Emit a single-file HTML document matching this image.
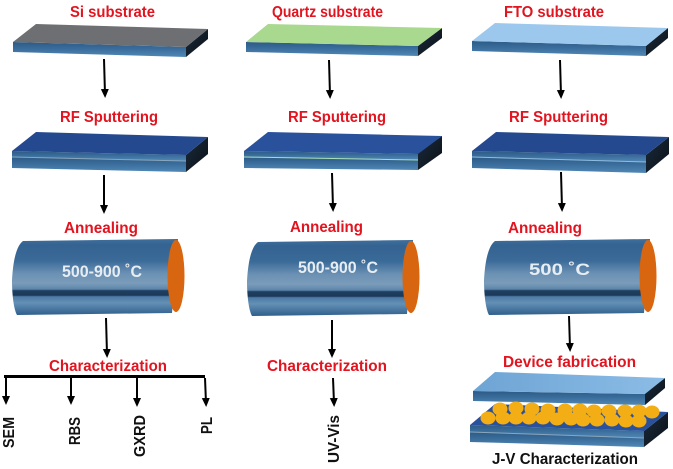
<!DOCTYPE html>
<html>
<head>
<meta charset="utf-8">
<style>
html,body{margin:0;padding:0;background:#fff}
svg{display:block;filter:blur(.35px)}
text{font-family:"Liberation Sans",sans-serif;font-weight:bold}
.r{fill:#e2141f;font-size:16px}
.k{fill:#111;font-size:15.500px}
.w{fill:#e6edf3;font-size:16.500px}
</style>
</head>
<body>
<svg width="673" height="469" viewBox="0 0 673 469" xmlns="http://www.w3.org/2000/svg">
<defs>
<linearGradient id="f" x1="0" y1="0" x2="0" y2="1">
<stop offset="0" stop-color="#2c5a85"/><stop offset=".5" stop-color="#3c6f9e"/><stop offset="1" stop-color="#5088b6"/>
</linearGradient>
<linearGradient id="s" x1="0" y1="0" x2="1" y2="1">
<stop offset="0" stop-color="#1a2a3a"/><stop offset="1" stop-color="#0b1118"/>
</linearGradient>
<linearGradient id="c" x1="0" y1="0" x2="0" y2="1">
<stop offset="0" stop-color="#3f6f9c"/><stop offset=".08" stop-color="#356391"/>
<stop offset=".28" stop-color="#3a6a98"/><stop offset=".45" stop-color="#6a90b3"/>
<stop offset=".58" stop-color="#7b9cba"/><stop offset=".66" stop-color="#5d86ab"/>
<stop offset=".68" stop-color="#1f3f60"/><stop offset=".74" stop-color="#1c3a5a"/>
<stop offset=".76" stop-color="#4c7ba6"/><stop offset=".84" stop-color="#6490b5"/>
<stop offset="1" stop-color="#2f5f8c"/>
</linearGradient>
<linearGradient id="t" x1="0" y1="0" x2="1" y2="0">
<stop offset="0" stop-color="#6ea4d4"/><stop offset="1" stop-color="#8bbce6"/>
</linearGradient>
<marker id="a" markerWidth="9" markerHeight="9" refX="5" refY="4" orient="auto" markerUnits="userSpaceOnUse">
<path d="M0 0L9 4L0 8Z" fill="#000"/>
</marker>
<g id="cyl">
<path d="M12 4C13-14 16-30 23-35L178-37L172 37L17 39C14 34 12 20 12 4Z" fill="url(#c)"/>
<ellipse cx="176" cy="0" rx="8.500" ry="36" fill="#d8650f"/>
</g>
</defs>

<!-- Si slab -->
<path d="M186 47L208 29V39L186 57Z" fill="url(#s)"/>
<path d="M13 42L186 47V57L13 52Z" fill="url(#f)"/>
<path d="M36 24L208 29L186 47L13 42Z" fill="#6e6f72"/>
<!-- Quartz slab -->
<path d="M418 46L442 28V38L418 56Z" fill="url(#s)"/>
<path d="M246 42L418 46V56L246 52Z" fill="url(#f)"/>
<path d="M268 24L442 28L418 46L246 42Z" fill="#a9d88f"/>
<!-- FTO slab -->
<path d="M646 46L668 28V38L646 56Z" fill="url(#s)"/>
<path d="M472 41L646 46V56L472 51Z" fill="url(#f)"/>
<path d="M495 23L668 28L646 46L472 41Z" fill="#9cc8ee"/>

<!-- RF Si -->
<path d="M186 155L208 137V154L186 172Z" fill="url(#s)"/>
<path d="M12 157L186 161V172L12 168Z" fill="url(#f)"/>
<path d="M12 151L186 155V161L12 157Z" fill="url(#f)"/>
<path d="M12 157L186 161" stroke="#8aa6bc" stroke-width="1" fill="none"/>
<path d="M36 132L208 137L186 155L12 151Z" fill="#24498f"/>
<!-- RF Quartz -->
<path d="M418 153L442 136V153L418 170Z" fill="url(#s)"/>
<path d="M244 157L418 160V170L244 168Z" fill="url(#f)"/>
<path d="M244 151L418 154V160L244 157Z" fill="url(#f)"/>
<path d="M244 157L418 160" stroke="#a9e0b8" stroke-width="1" fill="none"/>
<path d="M268 132L442 136L418 154L244 151Z" fill="#2a519c"/>
<!-- RF FTO -->
<path d="M646 155L669 137V154L646 173Z" fill="url(#s)"/>
<path d="M472 157L646 162V173L472 168Z" fill="url(#f)"/>
<path d="M472 151L646 155V162L472 157Z" fill="url(#f)"/>
<path d="M472 157L646 162" stroke="#8fbde0" stroke-width="1" fill="none"/>
<path d="M496 132L669 137L646 155L472 151Z" fill="#24498f"/>

<!-- Cylinders -->
<use href="#cyl" x="0" y="276"/>
<use href="#cyl" x="235" y="277"/>
<use href="#cyl" x="472" y="276"/>

<!-- Device -->
<path d="M645 393L665 378V388L645 405Z" fill="url(#s)"/>
<path d="M473 391L645 394V405L473 401Z" fill="url(#f)"/>
<path d="M495 372L665 378L645 394L473 391Z" fill="url(#t)"/>
<path d="M644 431L668 412V428L644 447Z" fill="url(#s)"/>
<path d="M470 432L644 438V447L470 442Z" fill="url(#f)"/>
<path d="M470 425L644 431V438L470 432Z" fill="url(#f)"/>
<path d="M470 432L644 438" stroke="#8aa6bc" stroke-width="1" fill="none"/>
<path d="M495 404L668 412L644 431L470 425Z" fill="#2a519c"/>
<g fill="#f2ae14">
<ellipse cx="500" cy="409" rx="7.500" ry="6.500"/><ellipse cx="516" cy="408" rx="7.500" ry="6.500"/><ellipse cx="532" cy="409" rx="7.500" ry="6.500"/><ellipse cx="548" cy="410" rx="7.500" ry="6.500"/><ellipse cx="565" cy="410" rx="7.500" ry="6.500"/><ellipse cx="580" cy="410" rx="7.500" ry="6.500"/><ellipse cx="594" cy="411" rx="7.500" ry="6.500"/><ellipse cx="609" cy="411" rx="7.500" ry="6.500"/><ellipse cx="625" cy="411" rx="7.500" ry="6.500"/><ellipse cx="639" cy="411" rx="7.500" ry="6.500"/><ellipse cx="652" cy="412" rx="7.500" ry="6.500"/>
<ellipse cx="488" cy="418" rx="7.500" ry="6.500"/><ellipse cx="503" cy="418" rx="7.500" ry="6.500"/><ellipse cx="516" cy="418" rx="7.500" ry="6.500"/><ellipse cx="529" cy="418" rx="7.500" ry="6.500"/><ellipse cx="543" cy="418" rx="7.500" ry="6.500"/><ellipse cx="557" cy="419" rx="7.500" ry="6.500"/><ellipse cx="571" cy="419" rx="7.500" ry="6.500"/><ellipse cx="583" cy="420" rx="7.500" ry="6.500"/><ellipse cx="597" cy="420" rx="7.500" ry="6.500"/><ellipse cx="612" cy="420" rx="7.500" ry="6.500"/><ellipse cx="626" cy="421" rx="7.500" ry="6.500"/><ellipse cx="639" cy="421" rx="7.500" ry="6.500"/>
</g>

<!-- Arrows -->
<g stroke="#000" stroke-width="2" fill="none">
<path d="M104 59L105 94" marker-end="url(#a)"/>
<path d="M329 60L330 95" marker-end="url(#a)"/>
<path d="M560 60L561 95" marker-end="url(#a)"/>
<path d="M104 175L104 210" marker-end="url(#a)"/>
<path d="M332 173L333 208" marker-end="url(#a)"/>
<path d="M561 172L562 208" marker-end="url(#a)"/>
<path d="M106 318L107 354" marker-end="url(#a)"/>
<path d="M332 320L332 354" marker-end="url(#a)"/>
<path d="M569 316L570 348" marker-end="url(#a)"/>
<path d="M6 376L6 401" marker-end="url(#a)"/>
<path d="M71 378L71 401" marker-end="url(#a)"/>
<path d="M137 378L137 403" marker-end="url(#a)"/>
<path d="M205 378L206 403" marker-end="url(#a)"/>
<path d="M333 378L334 403" marker-end="url(#a)"/>
</g>
<path d="M4 376.500H205" stroke="#000" stroke-width="3" fill="none"/>

<!-- Red labels -->
<text class="r" x="70" y="17" textLength="85" lengthAdjust="spacingAndGlyphs">Si substrate</text>
<text class="r" x="272" y="17" textLength="111" lengthAdjust="spacingAndGlyphs">Quartz substrate</text>
<text class="r" x="504" y="17" textLength="100" lengthAdjust="spacingAndGlyphs">FTO substrate</text>
<text class="r" x="60" y="122" textLength="98" lengthAdjust="spacingAndGlyphs">RF Sputtering</text>
<text class="r" x="288" y="122" textLength="98" lengthAdjust="spacingAndGlyphs">RF Sputtering</text>
<text class="r" x="509" y="122" textLength="99" lengthAdjust="spacingAndGlyphs">RF Sputtering</text>
<text class="r" x="64" y="233" textLength="74" lengthAdjust="spacingAndGlyphs">Annealing</text>
<text class="r" x="290" y="232" textLength="73" lengthAdjust="spacingAndGlyphs">Annealing</text>
<text class="r" x="508" y="233" textLength="74" lengthAdjust="spacingAndGlyphs">Annealing</text>
<text class="r" x="49" y="371" textLength="118" lengthAdjust="spacingAndGlyphs">Characterization</text>
<text class="r" x="267" y="371" textLength="120" lengthAdjust="spacingAndGlyphs">Characterization</text>
<text class="r" x="503" y="367" textLength="133" lengthAdjust="spacingAndGlyphs">Device fabrication</text>

<!-- White labels -->
<text class="w" x="62" y="277" textLength="80" lengthAdjust="spacingAndGlyphs">500-900 ˚C</text>
<text class="w" x="298" y="273" textLength="80" lengthAdjust="spacingAndGlyphs">500-900 ˚C</text>
<text class="w" x="529" y="275" textLength="61" lengthAdjust="spacingAndGlyphs">500 ˚C</text>

<!-- Black labels -->
<text class="k" x="492" y="464" textLength="146" lengthAdjust="spacingAndGlyphs">J-V Characterization</text>
<text class="k" transform="translate(14 448) rotate(-90)" textLength="31" lengthAdjust="spacingAndGlyphs">SEM</text>
<text class="k" transform="translate(80 445) rotate(-90)" textLength="28" lengthAdjust="spacingAndGlyphs">RBS</text>
<text class="k" transform="translate(145 457) rotate(-90)" textLength="42" lengthAdjust="spacingAndGlyphs">GXRD</text>
<text class="k" transform="translate(212 434) rotate(-90)" textLength="17" lengthAdjust="spacingAndGlyphs">PL</text>
<text class="k" transform="translate(339 463) rotate(-90)" textLength="48" lengthAdjust="spacingAndGlyphs">UV-Vis</text>
</svg>
</body>
</html>
